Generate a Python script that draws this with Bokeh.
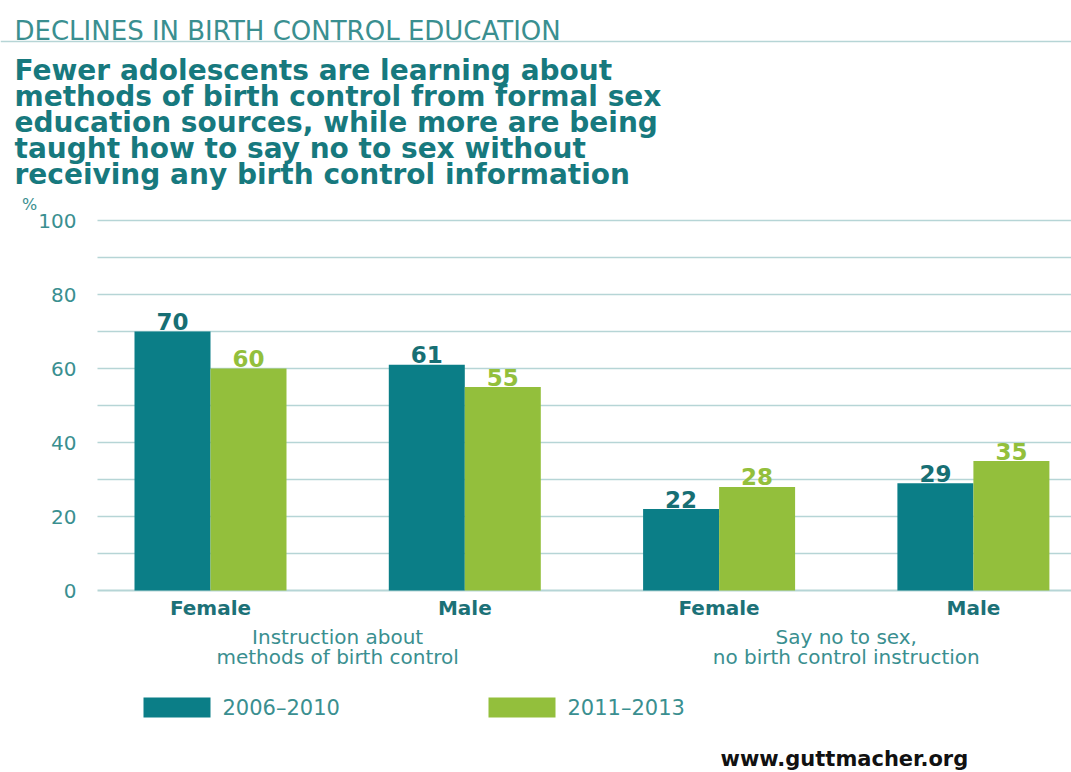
from bokeh.plotting import figure
from bokeh.models import Range1d, Label, ColumnDataSource
from bokeh.core.properties import value
from bokeh.embed import file_html
from bokeh.resources import INLINE

# ---- data ----
header = "DECLINES IN BIRTH CONTROL EDUCATION"
title_lines = [
    "Fewer adolescents are learning about",
    "methods of birth control from formal sex",
    "education sources, while more are being",
    "taught how to say no to sex without",
    "receiving any birth control information",
]
categories = ["Female", "Male", "Female", "Male"]
groups = ["Instruction about\nmethods of birth control", "Say no to sex,\nno birth control instruction"]
series_names = ["2006\u20132010", "2011\u20132013"]
s2006_2010 = [70, 61, 22, 29]
s2011_2013 = [60, 55, 28, 35]
tick_values = [0, 20, 40, 60, 80, 100]
grid_values = [10, 20, 30, 40, 50, 60, 70, 80, 90, 100]
source_text = "www.guttmacher.org"

TEAL = "#0b7e87"
GREEN = "#93bf3c"
TXT = "#17797e"
TXT_L = "#3a8f90"
GRID = "#b6d5d6"

W, H = 1071, 772
# pixel mapping (layout)
PX0, PXS = 210.0, 254.3      # pair-center of first category, spacing
PY0, PYS = 590.0, 3.7        # pixel of y=0, pixels per unit

def px2x(px):
    return (px - PX0) / PXS

def py2y(py):
    return (PY0 - py) / PYS

p = figure(width=W, height=H, output_backend="svg", toolbar_location=None,
           x_range=Range1d(px2x(0), px2x(W)), y_range=Range1d(py2y(H), py2y(0)),
           x_axis_type=None, y_axis_type=None, min_border=0)
p.outline_line_color = None
p.xgrid.visible = False
p.ygrid.visible = False
p.background_fill_color = "white"
p.border_fill_color = "white"

# gridlines
gx0 = [px2x(97)] * len(grid_values)
gx1 = [px2x(W)] * len(grid_values)
p.segment(x0=gx0, y0=grid_values, x1=gx1, y1=grid_values, line_color=GRID, line_width=1.5)
p.segment(x0=[px2x(97)], y0=[0], x1=[px2x(W)], y1=[0], line_color=GRID, line_width=2)

# bars
xs = list(range(len(categories)))
bw = 76 / PXS
src = ColumnDataSource(dict(
    x1=[x - bw / 2 for x in xs], x2=[x + bw / 2 for x in xs],
    a=s2006_2010, b=s2011_2013,
    la=[str(v) for v in s2006_2010], lb=[str(v) for v in s2011_2013],
    cat=categories))
p.vbar(x="x1", top="a", width=bw, bottom=0, source=src, fill_color=TEAL, line_color=None)
p.vbar(x="x2", top="b", width=bw, bottom=0, source=src, fill_color=GREEN, line_color=None)

# value labels
bold = value("DejaVu Sans")
p.text(x="x1", y="a", text="la", source=src, text_align="center", text_baseline="alphabetic",
       y_offset=-10, text_font=bold, text_font_style="bold", text_font_size="23px", text_color="#176f74")
p.text(x="x2", y="b", text="lb", source=src, text_align="center", text_baseline="alphabetic",
       y_offset=-10, text_font=bold, text_font_style="bold", text_font_size="23px", text_color=GREEN)

# category labels
p.text(x=xs, y=[0] * 4, text=categories, text_align="center", text_baseline="middle", y_offset=17,
       text_font=bold, text_font_style="bold", text_font_size="20px", text_color="#1c7177")

# group labels
for gi, g in enumerate(groups):
    l1, l2 = g.split("\n")
    gx = gi * 2 + 0.5
    p.text(x=[gx, gx], y=[0, 0], text=[l1, l2], text_align="center", text_baseline="middle",
           y_offset=[46, 66], text_font=value("DejaVu Sans"), text_font_size="20px", text_color=TXT_L)

# y tick labels
p.text(x=[px2x(76)] * len(tick_values), y=tick_values, text=[str(t) for t in tick_values],
       text_align="right", text_baseline="middle", text_font=value("DejaVu Sans"),
       text_font_size="20px", text_color=TXT_L)
p.add_layout(Label(x=px2x(29), y=py2y(204), text="%", text_align="center", text_baseline="alphabetic",
                   text_font="DejaVu Sans", text_font_size="16px", text_color=TXT_L))

# header
p.add_layout(Label(x=px2x(14), y=py2y(30), text=header, text_baseline="alphabetic",
                   text_font="DejaVu Sans", text_font_size="26px", text_color=TXT_L))
p.segment(x0=[px2x(0)], y0=[py2y(41)], x1=[px2x(W)], y1=[py2y(41)], line_color=GRID, line_width=1.5)

# title
for i, t in enumerate(title_lines):
    p.add_layout(Label(x=px2x(14), y=py2y(70 + i * 26), text=t, text_baseline="alphabetic",
                       text_font="DejaVu Sans", text_font_style="bold", text_font_size="28px",
                       text_color=TXT))

# legend
p.rect(x=[px2x(176.5), px2x(521.5)], y=[py2y(707)] * 2, width=67, height=20,
       width_units="screen", height_units="screen", fill_color=[TEAL, GREEN], line_color=None)
p.text(x=[px2x(222), px2x(567)], y=[py2y(707)] * 2, text=series_names, text_align="left",
       text_baseline="middle", text_font=value("DejaVu Sans"), text_font_size="21px", text_color=TXT_L)

# source
p.add_layout(Label(x=px2x(720), y=py2y(758), text=source_text, text_baseline="alphabetic",
                   text_font="DejaVu Sans", text_font_style="bold", text_font_size="21px",
                   text_color="#111111"))

open("out.html", "w").write(file_html(p, INLINE))
